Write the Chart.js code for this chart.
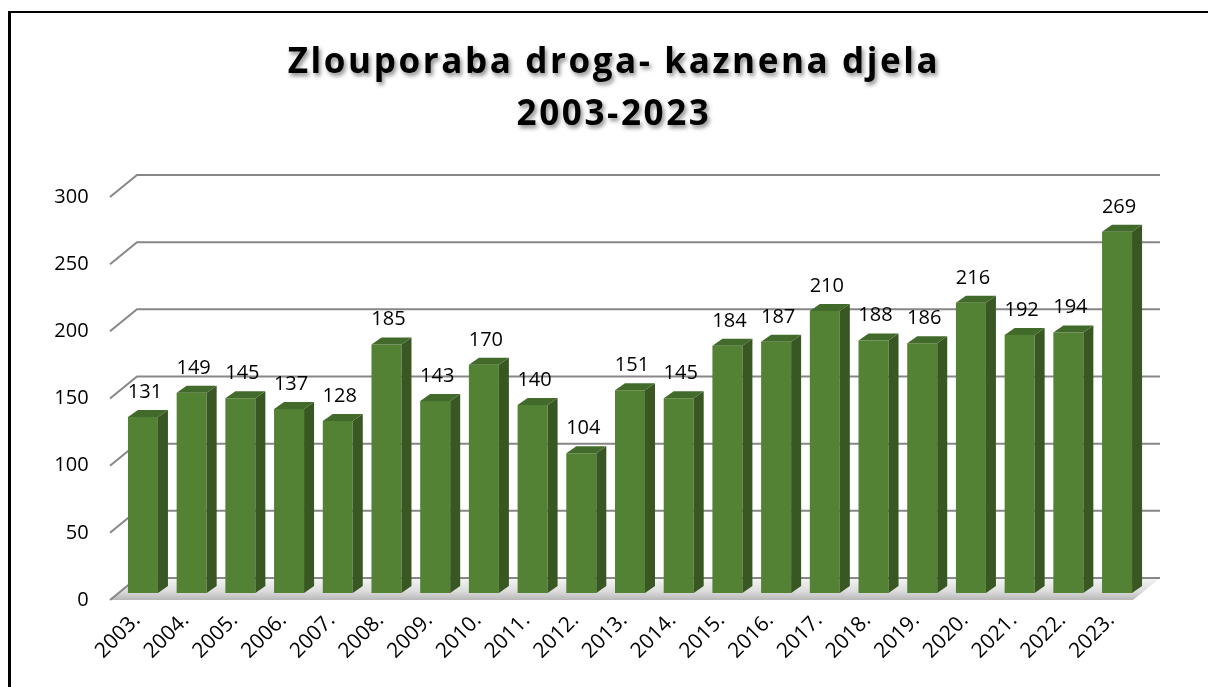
<!DOCTYPE html>
<html>
<head>
<meta charset="utf-8">
<script src="https://cdn.jsdelivr.net/npm/chart.js@4.4.1/dist/chart.umd.min.js"></script>
<style>
  html, body { margin: 0; padding: 0; background: #fff; overflow: hidden; }
  canvas { position: absolute; left: 0; top: 0; }
  #frame { position: absolute; left: 8px; top: 11px; width: 1400px; height: 900px;
           border-left: 3px solid #000; border-top: 2px solid #000; pointer-events: none; }
</style>
</head>
<body>
<canvas id="drug-offences" width="1208" height="687"></canvas>
<div id="frame"></div>
<script>
var years = ["2003.", "2004.", "2005.", "2006.", "2007.", "2008.", "2009.", "2010.", "2011.", "2012.",
             "2013.", "2014.", "2015.", "2016.", "2017.", "2018.", "2019.", "2020.", "2021.", "2022.", "2023."];
var offences = [131, 149, 145, 137, 128, 185, 143, 170, 140, 104, 151, 145, 184, 187, 210, 188, 186, 216, 192, 194, 269];
var yTicks = [0, 50, 100, 150, 200, 250, 300];
var titleLines = ["Zlouporaba droga- kaznena djela", "2003-2023"];

const FONT = "'Open Sans', 'Liberation Sans', sans-serif";
const FRONT = "#548235";
const SIDE = "#385723";
const TOP = "#426a2a";

// fake 3d: the floor/wall sit in front of and behind the plane the bars are drawn on
const depth3d = {
  id: "depth3d",
  beforeDatasetsDraw(chart) {
    const { ctx, chartArea: a, scales: { y } } = chart;
    const fx = a.left - 8.6, fy = 7;     // front edge
    const bx = a.left + 18.4, by = -15;  // back wall
    const rx = a.right + 18.6;
    const y0 = y.getPixelForValue(0);

    ctx.save();
    const g = ctx.createLinearGradient(0, y0 + by, 0, y0 + fy);
    g.addColorStop(0, "#f4f4f4");
    g.addColorStop(0.6, "#dcdcdc");
    g.addColorStop(1, "#b8b8b8");
    ctx.fillStyle = g;
    ctx.beginPath();
    ctx.moveTo(fx, y0 + fy);
    ctx.lineTo(rx - 27, y0 + fy);
    ctx.lineTo(rx, y0 + by);
    ctx.lineTo(bx, y0 + by);
    ctx.closePath();
    ctx.fill();

    ctx.strokeStyle = "#878787";
    ctx.lineWidth = 2;
    yTicks.forEach(v => {
      const py = y.getPixelForValue(v);
      ctx.beginPath();
      ctx.moveTo(fx, py + fy);
      ctx.lineTo(bx, py + by);
      ctx.lineTo(rx, py + by);
      ctx.stroke();
    });
    ctx.restore();
  },
  afterDatasetsDraw(chart) {
    const { ctx } = chart;
    const meta = chart.getDatasetMeta(0);
    const dx = 10, dy = -7;
    ctx.save();
    meta.data.forEach((bar, i) => {
      const l = bar.x - bar.width / 2, r = bar.x + bar.width / 2;
      ctx.fillStyle = SIDE;
      ctx.beginPath();
      ctx.moveTo(r, bar.y);
      ctx.lineTo(r + dx, bar.y + dy);
      ctx.lineTo(r + dx, bar.base + dy);
      ctx.lineTo(r, bar.base);
      ctx.closePath();
      ctx.fill();
      ctx.fillStyle = TOP;
      ctx.beginPath();
      ctx.moveTo(l, bar.y);
      ctx.lineTo(l + dx, bar.y + dy);
      ctx.lineTo(r + dx, bar.y + dy);
      ctx.lineTo(r, bar.y);
      ctx.closePath();
      ctx.fill();

      ctx.fillStyle = "#000";
      ctx.font = "20px " + FONT;
      ctx.textAlign = "center";
      ctx.textBaseline = "alphabetic";
      ctx.fillText(String(offences[i]), bar.x + 2, bar.y - 19);
    });
    ctx.restore();
  },
  afterDraw(chart) {
    const { ctx } = chart;
    ctx.save();
    ctx.font = "bold 35px " + FONT;
    ctx.letterSpacing = "2.6px";
    ctx.textAlign = "center";
    ctx.fillStyle = "#000";
    ctx.shadowColor = "rgba(0,0,0,0.45)";
    ctx.shadowBlur = 4;
    ctx.shadowOffsetX = 2;
    ctx.shadowOffsetY = 3;
    ctx.fillText(titleLines[0], 614, 73);
    ctx.fillText(titleLines[1], 614, 125);
    ctx.restore();
  }
};

new Chart("drug-offences", {
  type: "bar",
  data: {
    labels: years,
    datasets: [{
      data: offences,
      backgroundColor: FRONT,
      borderWidth: 0,
      barPercentage: 0.616,
      categoryPercentage: 1
    }]
  },
  options: {
    responsive: false,
    animation: false,
    layout: { padding: { top: 190, right: 66.6, left: 0, bottom: 0 } },
    plugins: { legend: { display: false }, tooltip: { enabled: false } },
    scales: {
      x: {
        grid: { display: false, drawTicks: false },
        border: { display: false },
        ticks: { color: "#000", font: { family: FONT, size: 21 }, minRotation: 45, maxRotation: 45,
                 padding: 15, labelOffset: -6 },
        afterFit: s => { s.height = 94; }
      },
      y: {
        min: 0,
        max: 300,
        grid: { display: false, drawTicks: false },
        border: { display: false },
        ticks: { stepSize: 50, color: "#000", font: { family: FONT, size: 20 }, padding: 30, labelOffset: 7 },
        afterFit: s => { s.width = 118.6; }
      }
    }
  },
  plugins: [depth3d]
});
</script>
</body>
</html>
